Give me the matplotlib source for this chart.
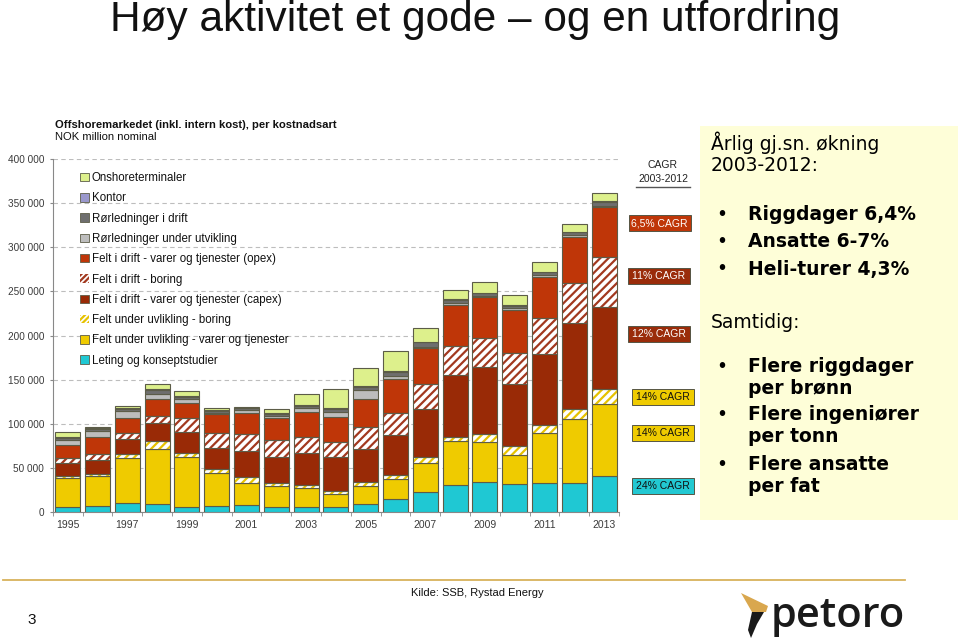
import matplotlib
matplotlib.use("Agg")
import matplotlib.pyplot as plt
from matplotlib.patches import Rectangle, Patch, Polygon
from matplotlib.lines import Line2D
import numpy as np

# ---------------- data (NOK million nominal) ----------------
years = list(range(1995, 2014))
leting = [5700, 6400, 9500, 8700, 5700, 6400, 7600, 5700, 4900, 4900,
          8700, 14400, 22700, 30300, 33300, 31000, 32200, 32200, 40500]
uv_varer = [32900, 34100, 51000, 62100, 56000, 37100, 25300, 23800, 21600, 14800,
            20800, 22700, 32900, 49900, 46200, 33300, 57500, 72600, 81300]
uv_boring = [2300, 2300, 5000, 9800, 5300, 4600, 6800, 3400, 3800, 3800,
             4600, 4500, 6800, 4900, 8700, 10600, 8700, 12100, 17500]
drift_capex = [14700, 15900, 16600, 20400, 23800, 23800, 29500, 29500, 35900, 38200,
               36700, 45400, 54100, 70000, 76400, 70000, 80600, 97700, 93400]
drift_boring = [4900, 6400, 6800, 8000, 15200, 17800, 19000, 19000, 18200, 17800,
                25700, 24600, 28000, 33000, 32900, 35600, 41200, 45400, 56800]
drift_opex = [14800, 19300, 17100, 18500, 17000, 21200, 24200, 24600, 29100, 28300,
              31400, 38600, 40900, 46500, 45800, 48400, 46600, 51400, 56000]
ror_utv = [6100, 7500, 8300, 6100, 4500, 1500, 3000, 2600, 3800, 5700,
           10200, 4200, 1900, 1900, 1500, 1900, 1500, 2300, 1500]
ror_drift = [2200, 2300, 2600, 4500, 3000, 1900, 1900, 2300, 2700, 3000,
             3000, 3800, 4900, 3800, 3000, 3100, 3400, 3400, 4900]
kontor = [1200, 800, 800, 1200, 1200, 700, 700, 700, 700, 800,
          1200, 1100, 800, 700, 800, 700, 800, 800, 800]
onshore = [5300, 1500, 2300, 5600, 5700, 2300, 1200, 4900, 12900, 21600,
           21200, 22700, 15100, 10300, 11700, 11400, 10500, 8300, 9400]

series_names = ["Leting og konseptstudier",
                "Felt under uvlikling - varer og tjenester",
                "Felt under uvlikling - boring",
                "Felt i drift - varer og tjenester (capex)",
                "Felt i drift - boring",
                "Felt i drift - varer og tjenester (opex)",
                "Rørledninger under utvikling",
                "Rørledninger i drift",
                "Kontor",
                "Onshoreterminaler"]
series_values = [leting, uv_varer, uv_boring, drift_capex, drift_boring,
                 drift_opex, ror_utv, ror_drift, kontor, onshore]

cagr_labels = ["6,5% CAGR", "11% CAGR", "12% CAGR", "14% CAGR", "14% CAGR", "24% CAGR"]
yticks = [0, 50000, 100000, 150000, 200000, 250000, 300000, 350000, 400000]

# ---------------- style ----------------
face = ["#1FC8D3", "#EFCB00", "#FFFFFF", "#992A06", "#FFFFFF",
        "#BF3608", "#BDBDBD", "#6E6E6E", "#9A98CC", "#DDF08C"]
hatch_col = [None, None, "#E6C200", None, "#A2391F", None, None, None, None, None]
edge = "#5C5C48"

W, H = 960, 642
fig = plt.figure(figsize=(W / 100, H / 100), dpi=100)
fig.patch.set_facecolor("white")

def fx(x):
    return x / W

def fy(y):
    return 1 - y / H

narrow = ["Liberation Sans Narrow", "Liberation Sans", "DejaVu Sans"]
arial = ["Liberation Sans", "DejaVu Sans"]

plt.rcParams["hatch.linewidth"] = 1.6

ax = fig.add_axes([fx(52.7), fy(511.7), fx(619) - fx(52.7), fy(159.3) - fy(511.7)])
x = np.arange(len(years))
bw = 0.84
bottom = np.zeros(len(years))
handles = []
for i, (name, vals) in enumerate(zip(series_names, series_values)):
    vals = np.array(vals, dtype=float)
    if hatch_col[i]:
        ax.bar(x, vals, bw, bottom=bottom, color="white", edgecolor=hatch_col[i],
               hatch="////", linewidth=0, zorder=3)
        ax.bar(x, vals, bw, bottom=bottom, fill=False, edgecolor=edge,
               linewidth=0.8, zorder=4)
        handles.append(Patch(facecolor="white", edgecolor=hatch_col[i], hatch="//////",
                             linewidth=0, label=name))
    else:
        ax.bar(x, vals, bw, bottom=bottom, color=face[i], edgecolor=edge,
               linewidth=0.8, zorder=3)
        handles.append(Patch(facecolor=face[i], edgecolor=edge, linewidth=0.6, label=name))
    bottom += vals

ax.set_xlim(-0.5, len(years) - 0.5)
ax.set_ylim(0, 400000)
ax.set_yticks(yticks)
ax.set_yticklabels([f"{v:,}".replace(",", " ") for v in yticks],
                   fontsize=7.2, color="#3A3A3A", family=narrow)
ax.set_xticks(x[::2])
ax.set_xticklabels([str(y) for y in years[::2]], fontsize=7.5, color="#3A3A3A", family=narrow)
ax.set_xticks(np.arange(-0.5, len(years), 1), minor=True)
ax.tick_params(axis="x", which="major", length=0, pad=6)
ax.tick_params(axis="x", which="minor", length=3, color="#888888")
ax.tick_params(axis="y", length=2, color="#888888", pad=4)
for s in ["top", "right"]:
    ax.spines[s].set_visible(False)
for s in ["left", "bottom"]:
    ax.spines[s].set_color("#888888")
    ax.spines[s].set_linewidth(0.8)
ax.yaxis.grid(True, linestyle=(0, (4, 3)), color="#BDBDBD", linewidth=0.8, zorder=0)
ax.set_axisbelow(True)

leg = ax.legend(handles=handles[::-1], loc="upper left",
                bbox_to_anchor=(fx(80), fy(172)), bbox_transform=fig.transFigure,
                frameon=False, handlelength=0.75, handleheight=0.75,
                handletextpad=0.25, labelspacing=0.72, borderpad=0, borderaxespad=0,
                prop={"family": narrow, "size": 8.3})
for t in leg.get_texts():
    t.set_color("#111111")

# chart titles
fig.text(fx(55), fy(125), "Offshoremarkedet (inkl. intern kost), per kostnadsart",
         fontsize=8.1, fontweight="bold", family=narrow, va="center", ha="left", color="#111111")
fig.text(fx(55), fy(137), "NOK million nominal", fontsize=8.1, family=narrow,
         va="center", ha="left", color="#111111")

# main title
fig.text(fx(110), fy(0.5), "Høy aktivitet et gode – og en utfordring", fontsize=30.5,
         family=arial, va="top", ha="left", color="#111111")

# CAGR column
fig.text(fx(663), fy(165), "CAGR", fontsize=7.5, family=narrow, ha="center", va="center", color="#222222")
fig.text(fx(663), fy(179), "2003-2012", fontsize=7.5, family=narrow, ha="center", va="center", color="#222222")
fig.add_artist(Line2D([fx(636), fx(690)], [fy(186.5), fy(186.5)], color="#555555", lw=1.0))

box_specs = [  # (center x, center y, face, text colour)
    (659.5, 223.3, "#BF3608", "white"),
    (659.0, 275.7, "#9A2C0A", "white"),
    (659.0, 334.3, "#9A2C0A", "white"),
    (662.5, 397.3, "#EFCB00", "#111111"),
    (662.5, 433.3, "#EFCB00", "#111111"),
    (662.5, 486.0, "#22C8D2", "#111111"),
]
bwid, bhei = 62, 16
for lab, (cx, cy, fc, tc) in zip(cagr_labels, box_specs):
    fig.add_artist(Rectangle((fx(cx - bwid / 2), fy(cy + bhei / 2)), bwid / W, bhei / H,
                             transform=fig.transFigure, facecolor=fc, edgecolor="#555544", lw=0.7))
    fig.text(fx(cx), fy(cy), lab, fontsize=7.5, family=narrow, ha="center", va="center", color=tc)

# right text panel
fig.add_artist(Rectangle((fx(700), fy(520)), 258 / W, 394 / H, transform=fig.transFigure,
                         facecolor="#FEFED8", edgecolor="none", zorder=0))
dv = "DejaVu Sans"
fs = 13.5
fig.text(fx(711), fy(143), "Årlig gj.sn. økning", fontsize=fs, family=dv, va="center", ha="left")
fig.text(fx(711), fy(166), "2003-2012:", fontsize=fs, family=dv, va="center", ha="left")
bul1 = [("Riggdager 6,4%", 215), ("Ansatte 6-7%", 242), ("Heli-turer 4,3%", 269)]
for txt, yy in bul1:
    fig.text(fx(716), fy(yy), "•", fontsize=fs, family=dv, va="center", ha="left")
    fig.text(fx(748), fy(yy), txt, fontsize=fs, family=dv, fontweight="bold", va="center", ha="left")
fig.text(fx(711), fy(323), "Samtidig:", fontsize=fs, family=dv, va="center", ha="left")
bul2 = [("Flere riggdager", "per brønn", 367), ("Flere ingeniører", "per tonn", 415),
        ("Flere ansatte", "per fat", 465)]
for l1, l2, yy in bul2:
    fig.text(fx(716), fy(yy), "•", fontsize=fs, family=dv, va="center", ha="left")
    fig.text(fx(748), fy(yy), l1, fontsize=fs, family=dv, fontweight="bold", va="center", ha="left")
    fig.text(fx(748), fy(yy + 22), l2, fontsize=fs, family=dv, fontweight="bold", va="center", ha="left")

# footer
fig.add_artist(Line2D([fx(3), fx(905)], [fy(580), fy(580)], color="#D8B25C", lw=1.3))
fig.text(fx(477), fy(593), "Kilde: SSB, Rystad Energy", fontsize=8, family=narrow,
         ha="center", va="center", color="#111111")
fig.text(fx(32), fy(620), "3", fontsize=11, family=arial, ha="center", va="center", color="#111111")

# petoro logo
flame = [(741, 593), (768, 606), (766, 612), (752, 612)]
fig.add_artist(Polygon([(fx(a), fy(b)) for a, b in flame], closed=True,
                       transform=fig.transFigure, facecolor="#D9A74E", edgecolor="none"))
stem = [(752, 612), (764, 612), (757, 624), (751, 638), (748, 630)]
fig.add_artist(Polygon([(fx(a), fy(b)) for a, b in stem], closed=True,
                       transform=fig.transFigure, facecolor="#1A1A1A", edgecolor="none"))
fig.text(fx(771), fy(616), "petoro", fontsize=30, family=["Open Sans", "DejaVu Sans"],
         fontweight="semibold", ha="left", va="center", color="#1A1A1A")

fig.savefig("out.png", dpi=100)
